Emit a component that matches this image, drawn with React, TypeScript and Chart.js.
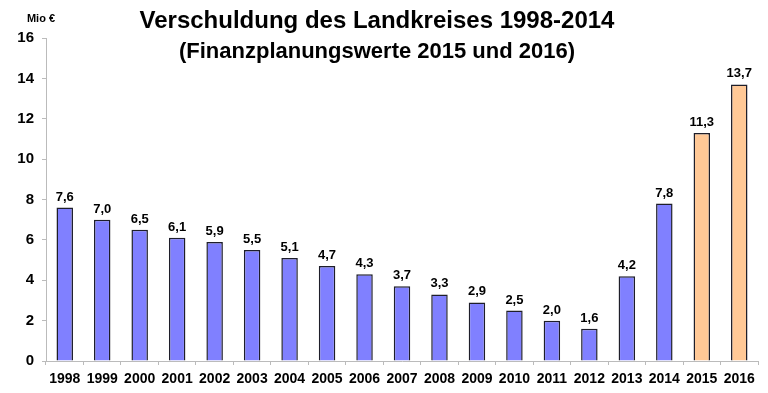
import React, { useEffect, useRef } from "react";
import { Chart, registerables } from "chart.js";

Chart.register(...registerables);

const years = ["1998", "1999", "2000", "2001", "2002", "2003", "2004", "2005", "2006", "2007", "2008", "2009", "2010", "2011", "2012", "2013", "2014", "2015", "2016"];
const debt = [7.6, 7.0, 6.5, 6.1, 5.9, 5.5, 5.1, 4.7, 4.3, 3.7, 3.3, 2.9, 2.5, 2.0, 1.6, 4.2, 7.8, 11.3, 13.7];
const planned = [false, false, false, false, false, false, false, false, false, false, false, false, false, false, false, false, false, true, true];
const titleLines = ["Verschuldung des Landkreises 1998-2014", "(Finanzplanungswerte 2015 und 2016)"];
const unitLabel = "Mio €";

const FONT = '"Liberation Sans", Arial, Helvetica, sans-serif';

const overlayPlugin = {
  id: "overlay",
  afterDraw(chart: any) {
    const ctx = chart.ctx;
    ctx.save();
    ctx.fillStyle = "#000";
    ctx.textAlign = "center";
    ctx.textBaseline = "alphabetic";
    // title
    ctx.font = `bold 24px ${FONT}`;
    ctx.fillText(titleLines[0], 377, 28);
    ctx.font = `bold 22px ${FONT}`;
    ctx.fillText(titleLines[1], 377, 58);
    // unit label
    ctx.font = `bold 11px ${FONT}`;
    ctx.fillText(unitLabel, 41, 22);
    // data labels
    const meta = chart.getDatasetMeta(0);
    ctx.font = `bold 13px ${FONT}`;
    meta.data.forEach((bar: any, i: number) => {
      const txt = debt[i].toFixed(1).replace(".", ",");
      ctx.fillText(txt, bar.x, bar.y - 7);
    });
    ctx.restore();
  },
};

export default function App() {
  const ref = useRef<HTMLCanvasElement>(null);
  useEffect(() => {
    if (!ref.current) return;
    const chart = new Chart(ref.current, {
      type: "bar",
      data: {
        labels: years,
        datasets: [
          {
            data: debt,
            backgroundColor: planned.map((p) => (p ? "#ffc896" : "#8080ff")),
            borderColor: "#1e1e2a",
            borderWidth: 1.5,
            categoryPercentage: 1,
            barPercentage: 0.44,
          },
        ],
      },
      options: {
        animation: false,
        responsive: false,
        devicePixelRatio: 1,
        layout: { padding: { top: 38, right: 10, left: 0, bottom: 0 } },
        plugins: {
          legend: { display: false },
          title: { display: false },
          tooltip: { enabled: false },
        },
        scales: {
          x: {
            grid: { display: true, drawOnChartArea: false, drawTicks: true, tickLength: 4, color: "#bbbbbb", offset: true },
            border: { color: "#bbbbbb" },
            ticks: { color: "#000", font: { family: FONT, size: 14, weight: "bold" }, padding: 6, maxRotation: 0, autoSkip: false },
            afterFit: (s: any) => { s.height = 32; },
          },
          y: {
            min: 0,
            max: 16,
            grid: { display: true, drawOnChartArea: false, drawTicks: true, tickLength: 4, color: "#bbbbbb" },
            border: { color: "#bbbbbb" },
            ticks: { stepSize: 2, color: "#000", font: { family: FONT, size: 15, weight: "bold" }, padding: 8 },
            afterFit: (s: any) => { s.width = 46; },
          },
        },
      },
      plugins: [overlayPlugin],
    } as any);
    return () => chart.destroy();
  }, []);
  return (
    <div style={{ position: "absolute", left: 0, top: 0, width: 768, height: 393, background: "#fff" }}>
      <canvas ref={ref} width={768} height={393} />
    </div>
  );
}
